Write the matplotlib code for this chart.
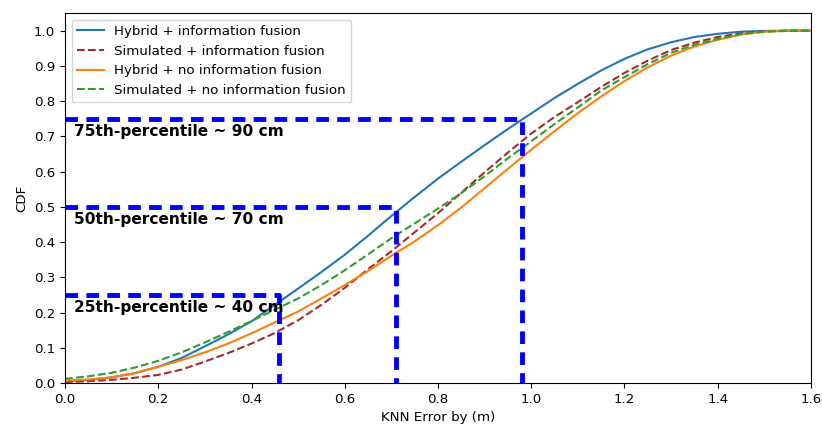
import matplotlib
matplotlib.use("Agg")
import matplotlib.pyplot as plt

x = [0.0, 0.05, 0.1, 0.15, 0.2, 0.25, 0.3, 0.35, 0.4, 0.45, 0.5, 0.55, 0.6, 0.65, 0.7,
     0.75, 0.8, 0.85, 0.9, 0.95, 1.0, 1.05, 1.1, 1.15, 1.2, 1.25, 1.3, 1.35, 1.4, 1.45,
     1.5, 1.55, 1.6]

hybrid_fusion = [0.005, 0.009, 0.016, 0.028, 0.046, 0.071, 0.104, 0.138, 0.175, 0.222,
                 0.268, 0.315, 0.364, 0.418, 0.474, 0.528, 0.580, 0.628, 0.675, 0.721,
                 0.765, 0.809, 0.849, 0.887, 0.920, 0.947, 0.967, 0.982, 0.991, 0.997,
                 0.999, 1.0, 1.0]

sim_fusion = [0.003, 0.005, 0.009, 0.015, 0.023, 0.038, 0.061, 0.085, 0.112, 0.142,
              0.178, 0.222, 0.270, 0.323, 0.374, 0.428, 0.482, 0.540, 0.598, 0.654,
              0.708, 0.755, 0.797, 0.840, 0.880, 0.915, 0.945, 0.966, 0.982, 0.992,
              0.998, 1.0, 1.0]

hybrid_nofusion = [0.007, 0.010, 0.016, 0.028, 0.046, 0.065, 0.087, 0.112, 0.141, 0.172,
                   0.203, 0.240, 0.278, 0.318, 0.361, 0.402, 0.448, 0.498, 0.553, 0.608,
                   0.662, 0.715, 0.766, 0.813, 0.857, 0.896, 0.929, 0.955, 0.974, 0.989,
                   0.997, 1.0, 1.0]

sim_nofusion = [0.012, 0.019, 0.029, 0.044, 0.063, 0.087, 0.115, 0.145, 0.176, 0.208,
                0.240, 0.278, 0.320, 0.365, 0.411, 0.453, 0.495, 0.539, 0.587, 0.638,
                0.686, 0.735, 0.782, 0.830, 0.868, 0.905, 0.937, 0.960, 0.976, 0.990,
                0.997, 0.999, 1.0]

series_labels = ["Hybrid + information fusion", "Simulated + information fusion",
                 "Hybrid + no information fusion", "Simulated + no information fusion"]

pct_levels = [0.25, 0.50, 0.75]
pct_errors = [0.46, 0.71, 0.98]
pct_texts = ["25th-percentile ~ 40 cm", "50th-percentile ~ 70 cm", "75th-percentile ~ 90 cm"]

plt.rcParams["font.size"] = 9.6

fig = plt.figure(figsize=(8.22, 4.25), dpi=100)
ax = fig.add_axes([0.0791, 0.0988, 0.9075, 0.8706])

ax.plot(x, hybrid_fusion, color="#1f77b4", lw=1.5, label=series_labels[0])
ax.plot(x, sim_fusion, color="brown", lw=1.5, ls="--", label=series_labels[1])
ax.plot(x, hybrid_nofusion, color="#ff7f0e", lw=1.5, label=series_labels[2])
ax.plot(x, sim_nofusion, color="#2ca02c", lw=1.5, ls="--", label=series_labels[3])

for lev, err, txt in zip(pct_levels, pct_errors, pct_texts):
    ax.plot([0, err, err], [lev, lev, 0], color="blue", lw=3.5,
            linestyle=(0, (2.6, 1.7)))
    ax.text(0.02, lev - 0.037, txt, fontsize=11.1, fontweight="bold",
            va="center", ha="left")

ax.set_xlim(0, 1.6)
ax.set_ylim(0, 1.05)
ax.set_xticks([0.0, 0.2, 0.4, 0.6, 0.8, 1.0, 1.2, 1.4, 1.6])
ax.set_yticks([i / 10 for i in range(11)])
ax.set_xlabel("KNN Error by (m)")
ax.set_ylabel("CDF")
ax.legend(loc="upper left", fontsize=9.6)

fig.savefig("out.png", dpi=100)
